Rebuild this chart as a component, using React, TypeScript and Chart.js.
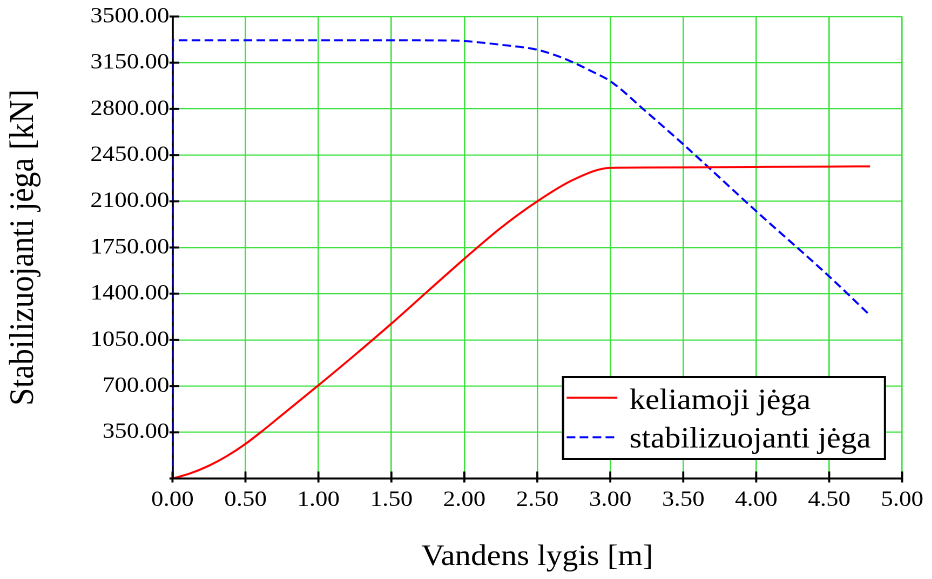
import React, { useEffect, useRef } from 'react';
import { Chart, registerables } from 'chart.js';

Chart.register(...registerables);

// ---- data ----
const liftX = [0, 0.12, 0.25, 0.37, 0.5, 0.62, 0.75, 1.0, 1.25, 1.5, 1.75, 2.0, 2.25, 2.5, 2.75, 3.0, 3.5, 4.0, 4.5, 4.78];
const liftY = [0, 38, 97, 168, 262, 364, 481, 706, 936, 1173, 1420, 1665, 1899, 2100, 2265, 2353, 2357, 2360, 2363, 2365];

const stabX = [0, 0, 0.5, 1.0, 1.5, 1.9, 2.0, 2.25, 2.5, 2.64, 2.75, 2.87, 3.0, 3.25, 3.5, 4.0, 4.5, 4.78];
const stabY = [0, 3320, 3320, 3320, 3320, 3318, 3314, 3286, 3248, 3200, 3150, 3086, 3010, 2775, 2532, 2025, 1531, 1236];

const seriesLabels = ['keliamoji jėga', 'stabilizuojanti jėga'];
const xTitle = 'Vandens lygis [m]';
const yTitle = 'Stabilizuojanti jėga [kN]';
const xMin = 0, xMax = 5, xStep = 0.5;
const yMin = 0, yMax = 3500, yStep = 350;

// ---- layout ----
const STRETCH = 1.08;
const CANVAS_W = 863;
const CANVAS_H = 579;
const AREA_LEFT = 159.7;
const AREA_RIGHT = 839.4;
const AREA_TOP = 15.5;
const AREA_BOTTOM = 478.5;
const FAMILY = 'Liberation Serif';
const FONT = '"Liberation Serif", "Times New Roman", serif';
const TICK_SIZE = 22.5;
const LABEL_SIZE = 29.5;
const YTITLE_SIZE = 32;

const tickMarks = {
  id: 'tickMarks',
  afterDatasetsDraw(chart: any) {
    const { ctx, chartArea, scales } = chart;
    ctx.save();
    ctx.strokeStyle = '#000';
    ctx.lineWidth = 1.9;
    scales.x.ticks.forEach((t: any) => {
      const px = scales.x.getPixelForValue(t.value);
      ctx.beginPath();
      ctx.moveTo(px, chartArea.bottom - 7);
      ctx.lineTo(px, chartArea.bottom + 4);
      ctx.stroke();
    });
    ctx.lineWidth = 2;
    scales.y.ticks.forEach((t: any) => {
      const py = scales.y.getPixelForValue(t.value);
      ctx.beginPath();
      ctx.moveTo(chartArea.left - 2.8, py);
      ctx.lineTo(chartArea.left + 6.3, py);
      ctx.stroke();
    });
    ctx.restore();
  },
};

const boxLegend = {
  id: 'boxLegend',
  afterDraw(chart: any) {
    const { ctx } = chart;
    const x1 = 521.3, y1 = 377, x2 = 819.4, y2 = 459;
    ctx.save();
    ctx.fillStyle = '#fff';
    ctx.fillRect(x1, y1, x2 - x1, y2 - y1);
    ctx.strokeStyle = '#000';
    ctx.lineWidth = 2;
    ctx.strokeRect(x1, y1, x2 - x1, y2 - y1);
    const lineY = [397.7, 437.3];
    const textY = [409, 447.7];
    chart.data.datasets.forEach((ds: any, i: number) => {
      ctx.strokeStyle = ds.borderColor;
      ctx.lineWidth = 2;
      ctx.setLineDash(ds.borderDash || []);
      ctx.beginPath();
      ctx.moveTo(524.7, lineY[i]);
      ctx.lineTo(571.6, lineY[i]);
      ctx.stroke();
      ctx.setLineDash([]);
      ctx.fillStyle = '#000';
      ctx.font = `${LABEL_SIZE}px ${FONT}`;
      ctx.textBaseline = 'alphabetic';
      ctx.textAlign = 'left';
      ctx.fillText(ds.label, 582.7, textY[i]);
    });
    ctx.restore();
  },
};

export default function App() {
  const ref = useRef<HTMLCanvasElement | null>(null);

  useEffect(() => {
    document.body.style.margin = '0';
    let chart: any = null;
    let cancelled = false;
    const loads = [TICK_SIZE, LABEL_SIZE, YTITLE_SIZE].map((s) =>
      (document as any).fonts ? (document as any).fonts.load(`${s}px "${FAMILY}"`) : Promise.resolve()
    );
    Promise.all(loads)
      .catch(() => undefined)
      .then(() => {
        const canvas = ref.current;
        if (cancelled || !canvas) return;
        chart = new Chart(canvas, {
          type: 'line',
          data: {
            datasets: [
              {
                label: seriesLabels[0],
                data: liftX.map((x, i) => ({ x, y: liftY[i] })),
                borderColor: '#ff0000',
                borderWidth: 2,
                pointRadius: 0,
                fill: false,
                cubicInterpolationMode: 'monotone',
              },
              {
                label: seriesLabels[1],
                data: stabX.map((x, i) => ({ x, y: stabY[i] })),
                borderColor: '#0000ff',
                borderWidth: 2,
                borderDash: [8, 4],
                pointRadius: 0,
                fill: false,
                cubicInterpolationMode: 'monotone',
              },
            ],
          },
          options: {
            animation: false,
            responsive: false,
            devicePixelRatio: 2,
            layout: { padding: { left: 0, right: CANVAS_W - AREA_RIGHT, top: AREA_TOP, bottom: 0 } },
            plugins: { legend: { display: false }, tooltip: { enabled: false } },
            scales: {
              x: {
                type: 'linear',
                min: xMin,
                max: xMax,
                ticks: {
                  stepSize: xStep,
                  color: '#000',
                  padding: 8,
                  font: { family: FONT, size: TICK_SIZE },
                  callback: (v: any) => Number(v).toFixed(2),
                },
                grid: { color: '#3fe03f', lineWidth: 1.3, drawTicks: false },
                border: { display: true, color: '#000', width: 2 },
                title: {
                  display: true,
                  text: xTitle,
                  color: '#000',
                  font: { family: FONT, size: LABEL_SIZE },
                  padding: { top: 0, bottom: 4 },
                },
                afterFit: (s: any) => { s.height = CANVAS_H - AREA_BOTTOM; },
              },
              y: {
                type: 'linear',
                min: yMin,
                max: yMax,
                ticks: {
                  stepSize: yStep,
                  color: '#000',
                  padding: 3,
                  font: { family: FONT, size: TICK_SIZE },
                  callback: (v: any) => (Number(v) === 0 ? '' : Number(v).toFixed(2)),
                },
                grid: { color: '#3fe03f', lineWidth: 1.3, drawTicks: false },
                border: { display: true, color: '#000', width: 1.9 },
                title: {
                  display: true,
                  text: yTitle,
                  color: '#000',
                  font: { family: FONT, size: YTITLE_SIZE },
                  padding: { top: 2.7, bottom: 0 },
                },
                afterFit: (s: any) => { s.width = AREA_LEFT; },
              },
            },
          },
          plugins: [tickMarks, boxLegend],
        } as any);
      });
    return () => {
      cancelled = true;
      if (chart) chart.destroy();
    };
  }, []);

  return (
    <div style={{ width: 932, height: 579, overflow: 'hidden', background: '#fff' }}>
      <div style={{ transform: `scaleX(${STRETCH})`, transformOrigin: '0 0', width: CANVAS_W, height: CANVAS_H }}>
        <canvas ref={ref} width={CANVAS_W} height={CANVAS_H} />
      </div>
    </div>
  );
}
